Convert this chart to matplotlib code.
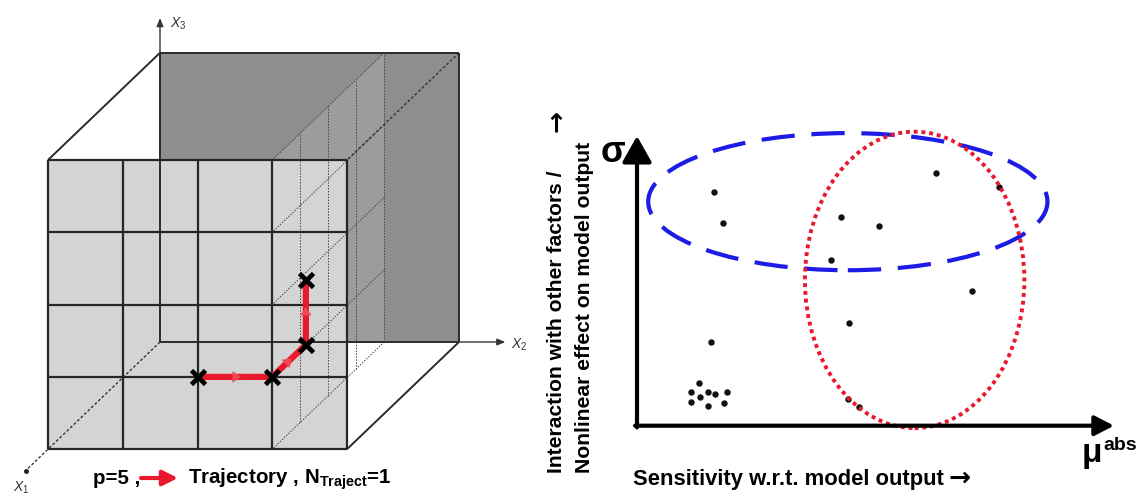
"""
Morris elementary-effects sketch: a p-level grid in a 3-factor input cube with
one trajectory (left), and the mu*/sigma screening plane (right).
"""

import matplotlib
matplotlib.use("Agg")
import matplotlib.pyplot as plt
from matplotlib.patches import Polygon, Ellipse

plt.rcParams["font.family"] = ["Liberation Sans", "DejaVu Sans"]
plt.rcParams["mathtext.fontset"] = "custom"
plt.rcParams["mathtext.rm"] = "Liberation Sans"
plt.rcParams["mathtext.it"] = "Liberation Sans:italic"
plt.rcParams["mathtext.bf"] = "Liberation Sans:bold"

# --- left panel: grid and trajectory (grid units, 0..P_LEVELS-1) ---
P_LEVELS = 5
N_TRAJECT = 1
SLICE_X2 = 3                      # vertical plane the trajectory climbs in
TRAJ_X1 = [4, 4, 2.8, 2.8]
TRAJ_X2 = [2, 3, 3, 3]
TRAJ_X3 = [1, 1, 1, 1.9]

# --- right panel: screening plane ---
MU_ABS = [1.61, 1.81, 6.27, 7.58, 4.27, 5.07, 4.07, 7.02, 4.44, 1.56,
          1.31, 1.13, 1.32, 1.49, 1.64, 1.88, 1.13, 1.49, 1.83, 4.43, 4.66]
SIGMA = [4.85, 4.19, 5.24, 4.95, 4.33, 4.14, 3.43, 2.80, 2.13, 1.73,
         0.88, 0.70, 0.60, 0.70, 0.65, 0.70, 0.50, 0.41, 0.46, 0.55, 0.38]
# group outlines: (centre mu, centre sigma, width, height)
NONLINEAR_GROUP = (4.42, 4.64, 8.37, 2.84)
INFLUENTIAL_GROUP = (5.82, 3.02, 4.60, 6.14)

RED = "#e8192c"
BLUE = "#1c1ce6"
ARROW_FONT = ["DejaVu Sans"]

# oblique projection of (x1, x2, x3) grid coords onto the pixel canvas
ORIGIN = (160.0, 342.0)
CELL = (74.75, 72.3)
DEPTH = (-28.0, 26.8)


def proj(x1, x2, x3):
    return (ORIGIN[0] + x2 * CELL[0] + x1 * DEPTH[0],
            ORIGIN[1] - x3 * CELL[1] + x1 * DEPTH[1])


def seg(ax, a, b, **kw):
    pa, pb = proj(*a), proj(*b)
    ax.plot([pa[0], pb[0]], [pa[1], pb[1]], solid_capstyle="butt", **kw)


fig = plt.figure(figsize=(11.42, 4.96), dpi=100)
canvas = fig.add_axes([0, 0, 1, 1])
canvas.set_xlim(0, 1142)
canvas.set_ylim(496, 0)
canvas.axis("off")

n = P_LEVELS - 1
back = [proj(0, 0, 0), proj(0, n, 0), proj(0, n, n), proj(0, 0, n)]
front = [proj(n, 0, 0), proj(n, n, 0), proj(n, n, n), proj(n, 0, n)]
slab = [proj(0, SLICE_X2, 0), proj(n, SLICE_X2, 0),
        proj(n, SLICE_X2, n), proj(0, SLICE_X2, n)]

canvas.add_patch(Polygon(back, closed=True, facecolor="#8e8e8e", edgecolor="none", zorder=1))
canvas.add_patch(Polygon(slab, closed=True, facecolor="white", alpha=0.13, edgecolor="none", zorder=1.5))
canvas.add_patch(Polygon(front, closed=True, facecolor="#d4d4d4", edgecolor="none", zorder=2))

thin_dot = dict(color="#444444", lw=0.7, linestyle=(0, (1.5, 1.5)), zorder=3)
for k in range(n):
    seg(canvas, (k, SLICE_X2, 0), (k, SLICE_X2, n), **thin_dot)
for k in range(n + 1):
    seg(canvas, (0, SLICE_X2, k), (n, SLICE_X2, k), **thin_dot)

edge = dict(color="#2b2b2b", lw=1.4, zorder=4)
# edges of the back wall and the x1 direction
seg(canvas, (0, 0, 0), (0, n, 0), **edge)
seg(canvas, (0, 0, 0), (0, 0, n), **edge)
seg(canvas, (0, 0, n), (0, n, n), **edge)
seg(canvas, (0, n, 0), (0, n, n), **edge)
seg(canvas, (0, 0, n), (n, 0, n), **edge)
seg(canvas, (0, n, 0), (n, n, 0), **edge)
seg(canvas, (0, n, n), (n, n, n), color="#333333", lw=1.0,
    linestyle=(0, (2, 1.5)), zorder=4)
seg(canvas, (0, 0, 0), (n + 0.8, 0, 0), color="#333333", lw=1.0,
    linestyle=(0, (2, 1.5)), zorder=4)

# front face grid
for k in range(n + 1):
    seg(canvas, (n, k, 0), (n, k, n), color="#262626", lw=1.6, zorder=5)
    seg(canvas, (n, 0, k), (n, n, k), color="#262626", lw=1.6, zorder=5)

# coordinate axes
axis_kw = dict(arrowstyle="-|>,head_length=0.6,head_width=0.25", color="#333333",
               lw=1.0, mutation_scale=8, shrinkA=0, shrinkB=0)
canvas.annotate("", xy=proj(0, 0, n + 0.48), xytext=proj(0, 0, n), arrowprops=axis_kw, zorder=4)
canvas.annotate("", xy=proj(0, n + 0.62, 0), xytext=proj(0, n, 0), arrowprops=axis_kw, zorder=4)
x1_end = proj(n + 0.8, 0, 0)
canvas.plot([x1_end[0]], [x1_end[1]], "o", ms=2.5, color="#222222", zorder=4)

canvas.text(proj(0, 0, n + 0.48)[0] + 10, proj(0, 0, n + 0.48)[1] + 6, "$X_3$",
            fontsize=10, color="#333333", ha="left", va="center")
canvas.text(proj(0, n + 0.62, 0)[0] + 6, proj(0, n + 0.62, 0)[1] + 3, "$X_2$",
            fontsize=10, color="#333333", ha="left", va="center")
canvas.text(x1_end[0] - 4, x1_end[1] + 17, "$X_1$",
            fontsize=10, color="#333333", ha="center", va="center")

# trajectory
pts = [proj(a, b, c) for a, b, c in zip(TRAJ_X1, TRAJ_X2, TRAJ_X3)]
canvas.plot([p[0] for p in pts], [p[1] for p in pts], color=RED, lw=4.5,
            solid_capstyle="butt", solid_joinstyle="miter", zorder=6)
for (xa, ya), (xb, yb) in zip(pts[:-1], pts[1:]):
    mx, my = (xa + xb) / 2, (ya + yb) / 2
    dx, dy = (xb - xa) * 0.08, (yb - ya) * 0.08
    canvas.annotate("", xy=(mx + dx, my + dy), xytext=(mx - dx, my - dy),
                    arrowprops=dict(arrowstyle="-|>,head_length=0.5,head_width=0.35",
                                    color="#f04a50", lw=0, mutation_scale=12,
                                    shrinkA=0, shrinkB=0), zorder=6.5)
canvas.plot([p[0] for p in pts], [p[1] for p in pts], "x", ms=10.5, mew=3.4,
            color="black", linestyle="none", zorder=7)

# caption under the cube
canvas.text(93, 479, f"p={P_LEVELS} ,", fontsize=14.8, fontweight="bold", ha="left", va="center")
canvas.annotate("", xy=(178, 478), xytext=(141, 478),
                arrowprops=dict(arrowstyle="-|>,head_length=0.9,head_width=0.45",
                                color=RED, lw=3, mutation_scale=10, shrinkA=0, shrinkB=0))
canvas.text(188, 479, "Trajectory , N$_{\\mathbf{Traject}}$=" + str(N_TRAJECT),
            fontsize=14.8, fontweight="bold", ha="left", va="center")

# --- right panel ---
ax = fig.add_axes([637 / 1142, 1 - 425.7 / 496, 477 / 1142, 289.7 / 496])
ax.set_xlim(0, 10)
ax.set_ylim(0, 6)
ax.axis("off")

ax.scatter(MU_ABS, SIGMA, s=13, color="#111111", zorder=3, clip_on=False)

cx, cy, w, h = NONLINEAR_GROUP
ax.add_patch(Ellipse((cx, cy), w, h, fill=False, edgecolor=BLUE, lw=3,
                     linestyle=(0, (8, 4)), clip_on=False, zorder=4))
cx, cy, w, h = INFLUENTIAL_GROUP
ax.add_patch(Ellipse((cx, cy), w, h, fill=False, edgecolor=RED, lw=2.8,
                     linestyle=(0, (1, 1)), clip_on=False, zorder=5))

ax.annotate("", xy=(0, 1), xytext=(0, -0.006), xycoords="axes fraction",
            arrowprops=dict(arrowstyle="-|>,head_length=0.8,head_width=0.45",
                            lw=3, color="black", mutation_scale=20,
                            shrinkA=0, shrinkB=0), zorder=6)
ax.annotate("", xy=(1, 0), xytext=(-0.004, 0), xycoords="axes fraction",
            arrowprops=dict(arrowstyle="-|>,head_length=0.58,head_width=0.3",
                            lw=3, color="black", mutation_scale=20,
                            shrinkA=0, shrinkB=0), zorder=6)

canvas.text(613, 162, "σ", fontsize=26, fontweight="bold", ha="center", va="baseline")
canvas.text(1092, 462, "μ", fontsize=24, fontweight="bold", ha="center", va="baseline")
canvas.text(1103, 450, "abs", fontsize=14, fontweight="bold", ha="left", va="baseline")

canvas.text(557, 473, "Interaction with other factors /", fontsize=15.2, fontweight="bold",
            rotation=90, rotation_mode="anchor", ha="left", va="center")
canvas.text(557, 121, "→", fontsize=19, fontweight="bold", family=ARROW_FONT,
            rotation=90, rotation_mode="anchor", ha="center", va="center")
canvas.text(584, 473, "Nonlinear effect on model output", fontsize=15.2, fontweight="bold",
            rotation=90, rotation_mode="anchor", ha="left", va="center")
canvas.text(633, 479, "Sensitivity w.r.t. model output", fontsize=15.8, fontweight="bold",
            ha="left", va="center")
canvas.text(960, 479, "→", fontsize=19, fontweight="bold", family=ARROW_FONT,
            ha="center", va="center")

fig.savefig("out.png", dpi=100)
